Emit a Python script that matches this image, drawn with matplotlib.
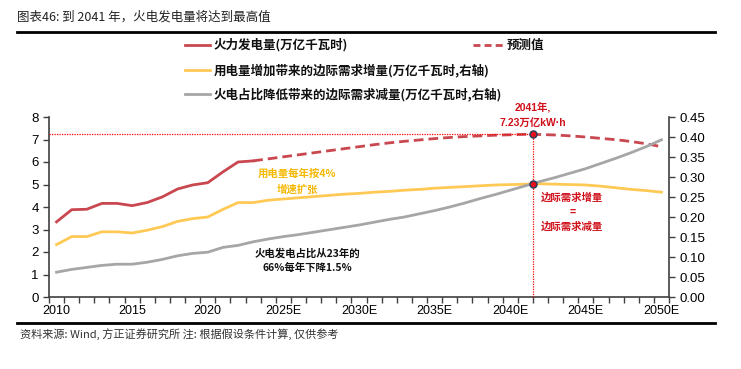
import numpy as np
import matplotlib
matplotlib.use("Agg")
import matplotlib.pyplot as plt
from matplotlib.lines import Line2D

plt.rcParams['font.family'] = ['Liberation Sans', 'Noto Sans CJK SC', 'DejaVu Sans']
CJK = ['Noto Sans CJK SC', 'Liberation Sans', 'DejaVu Sans']
LAT = ['Liberation Sans', 'Noto Sans CJK SC', 'DejaVu Sans']

years = list(range(2010, 2051))
tick_years = [2010, 2015, 2020, 2025, 2030, 2035, 2040, 2045, 2050]
tick_labels = ['2010', '2015', '2020', '2025E', '2030E', '2035E', '2040E', '2045E', '2050E']

# 火力发电量, 万亿千瓦时 (left axis)
thermal_actual_years = list(range(2010, 2024))
thermal_actual = [3.34, 3.88, 3.90, 4.16, 4.16, 4.06, 4.20, 4.45, 4.80, 4.98,
                  5.08, 5.56, 6.00, 6.05]
thermal_fcst_years = list(range(2023, 2051))
thermal_fcst = [6.05, 6.14, 6.23, 6.32, 6.41, 6.50, 6.59, 6.68, 6.77, 6.85,
                6.92, 6.98, 7.04, 7.09, 7.13, 7.16, 7.19, 7.21, 7.23, 7.22,
                7.20, 7.16, 7.11, 7.05, 6.99, 6.91, 6.81, 6.68]

# 用电量增加带来的边际需求增量 (right axis)
demand_inc = [0.131, 0.151, 0.151, 0.163, 0.163, 0.160, 0.167, 0.176, 0.189, 0.196,
              0.200, 0.219, 0.236, 0.236, 0.242, 0.245, 0.248, 0.251, 0.254, 0.257,
              0.259, 0.262, 0.264, 0.267, 0.269, 0.272, 0.274, 0.276, 0.278, 0.280,
              0.281, 0.282, 0.283, 0.282, 0.281, 0.280, 0.277, 0.273, 0.269, 0.266,
              0.262]

# 火电占比降低带来的边际需求减量 (right axis)
demand_dec = [0.062, 0.069, 0.074, 0.079, 0.082, 0.082, 0.087, 0.094, 0.103, 0.109,
              0.112, 0.124, 0.129, 0.138, 0.145, 0.151, 0.156, 0.162, 0.168, 0.174,
              0.180, 0.187, 0.194, 0.200, 0.208, 0.216, 0.225, 0.235, 0.246, 0.256,
              0.267, 0.278, 0.289, 0.299, 0.310, 0.321, 0.334, 0.347, 0.361, 0.376,
              0.393]

peak_year = 2041
peak_value = 7.23
cross_value = 0.283

RED = '#C9474F'
YELLOW = '#FFC955'
GRAY = '#A6A6A6'
ANNO = '#D0101A'

fig = plt.figure(figsize=(7.41, 3.69), dpi=100)
W, H = 741, 369
ax = fig.add_axes([49 / W, 1 - 297 / H, 620 / W, 180 / H])
ax2 = ax.twinx()

ax.plot(thermal_actual_years, thermal_actual, color=RED, lw=2.0, zorder=3)
ax.plot(thermal_fcst_years, thermal_fcst, color=RED, lw=2.0, ls=(0, (3.5, 1.8)), zorder=3)
ax2.plot(years, demand_inc, color=YELLOW, lw=2.0, zorder=2)
ax2.plot(years, demand_dec, color=GRAY, lw=2.0, zorder=2)

# the peak marker sits on the category boundary in the original chart
px = peak_year + 0.5
ax.plot([2009.5, px], [peak_value, peak_value], color='#FF0000', lw=0.9, ls=(0, (1, 1)), zorder=4)
ax.plot([px, px], [0, peak_value], color='#FF0000', lw=0.9, ls=(0, (1, 1)), zorder=4)
ax.plot([px], [peak_value], marker='o', ms=5, mfc='#E8101A', mec='#2F3C5C', mew=1.1, zorder=6)
ax2.plot([px], [cross_value], marker='o', ms=5, mfc='#E8101A', mec='#2F3C5C', mew=1.1, zorder=6)

ax.set_xlim(2009.5, 2050.5)
ax.set_ylim(0, 8)
ax2.set_ylim(0, 0.45)
ax.set_yticks(range(0, 9))
ax2.set_yticks(np.arange(0, 0.451, 0.05))
ax2.set_yticklabels([f'{v:.2f}' for v in np.arange(0, 0.451, 0.05)])

ax.set_xticks(np.arange(2009.5, 2051, 1))
ax.set_xticklabels([])
ax.set_xticks(tick_years, minor=True)
ax.set_xticklabels(tick_labels, minor=True)
ax.tick_params(axis='x', which='major', direction='out', length=4, width=1, color='#404040')
ax.tick_params(axis='x', which='minor', length=0, pad=6, labelsize=9)
ax.tick_params(axis='y', direction='out', length=4, width=1, color='#404040', labelsize=9.5)
ax2.tick_params(axis='y', direction='out', length=4, width=1, color='#404040', labelsize=9.5)

for a in (ax, ax2):
    a.spines['top'].set_visible(False)
    for s in ['left', 'right', 'bottom']:
        a.spines[s].set_color('#404040')
        a.spines[s].set_linewidth(1.2)
ax.spines['right'].set_visible(False)
ax2.spines['left'].set_visible(False)
ax2.spines['bottom'].set_visible(False)

# annotations
ax.text(2041.5, 8.45, '2041年,', color=ANNO, fontsize=7.5, fontweight='bold',
        ha='center', va='center', family=LAT)
ax.text(2041.5, 7.73, '7.23万亿kW·h', color=ANNO, fontsize=7.5, fontweight='bold',
        ha='center', va='center', family=LAT)
ax.text(2025.9, 5.48, '用电量每年按4%', color='#F5B800', fontsize=7.5, fontweight='bold',
        ha='center', va='center', family=CJK)
ax.text(2025.9, 4.76, '增速扩张', color='#F5B800', fontsize=7.5, fontweight='bold',
        ha='center', va='center', family=CJK)
ax.text(2026.6, 1.95, '火电发电占比从23年的', color='#111111', fontsize=7.5, fontweight='bold',
        ha='center', va='center', family=CJK)
ax.text(2026.6, 1.28, '66%每年下降1.5%', color='#111111', fontsize=7.5, fontweight='bold',
        ha='center', va='center', family=CJK)
ax.text(2044.1, 4.42, '边际需求增量', color=ANNO, fontsize=7.5, fontweight='bold',
        ha='center', va='center', family=CJK)
ax.text(2044.1, 3.77, '=', color=ANNO, fontsize=7.5, fontweight='bold',
        ha='center', va='center', family=CJK)
ax.text(2044.1, 3.13, '边际需求减量', color=ANNO, fontsize=7.5, fontweight='bold',
        ha='center', va='center', family=CJK)

# title and rules
fig.text(17 / W, 1 - 17 / H, '图表46: 到 2041 年，火电发电量将达到最高值', fontsize=9,
         ha='left', va='center', family=CJK, color='#222222')
fig.add_artist(Line2D([17 / W, 715 / W], [1 - 32 / H, 1 - 32 / H], color='black', lw=2))
fig.add_artist(Line2D([17 / W, 715 / W], [1 - 323 / H, 1 - 323 / H], color='black', lw=2))
fig.text(20 / W, 1 - 334 / H, '资料来源: Wind, 方正证券研究所 注: 根据假设条件计算, 仅供参考',
         fontsize=8, ha='left', va='center', family=CJK, style='italic', color='#333333')

# legend
legend_rows = [
    (185, 210, 45, RED, '-', '火力发电量(万亿千瓦时)'),
    (185, 210, 70, YELLOW, '-', '用电量增加带来的边际需求增量(万亿千瓦时,右轴)'),
    (185, 210, 94, GRAY, '-', '火电占比降低带来的边际需求减量(万亿千瓦时,右轴)'),
    (473, 503, 45, RED, (0, (2.5, 1.5)), '预测值'),
]
for x0, x1, y, c, ls, label in legend_rows:
    fig.add_artist(Line2D([x0 / W, x1 / W], [1 - y / H, 1 - y / H], color=c, lw=2, ls=ls))
    fig.text((x1 + 4) / W, 1 - y / H, label, fontsize=9, fontweight='bold',
             ha='left', va='center', family=CJK, color='#111111')

fig.savefig('out.png', dpi=100)
